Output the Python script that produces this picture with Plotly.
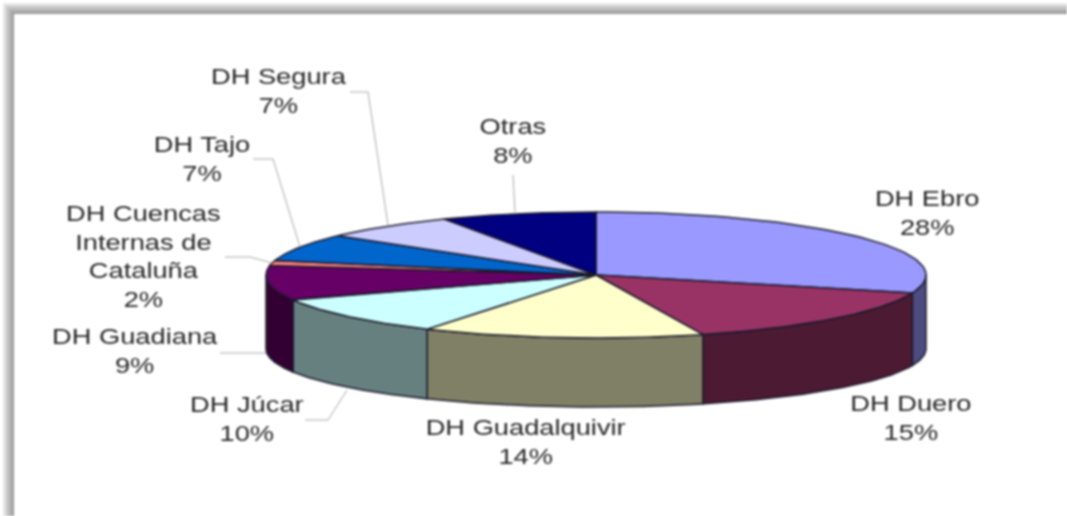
import math
import plotly.graph_objects as go

categories = ["DH Ebro", "DH Duero", "DH Guadalquivir", "DH Júcar", "DH Guadiana",
              "DH Cuencas<br>Internas de<br>Cataluña", "DH Tajo", "DH Segura", "Otras"]
# apparent share of the drawn ellipse, read from the slice boundaries
shares = [29.6, 15.15, 13.8, 9.95, 8.9, 1.3, 7.0, 6.7, 7.6]
percent_labels = ["28%", "15%", "14%", "10%", "9%", "2%", "7%", "7%", "8%"]
top_colors = ["#9999ff", "#993366", "#ffffcc", "#ccffff", "#660066", "#ff8080", "#0066cc", "#ccccff", "#000080"]
side_colors = ["#4c4c80", "#4c1a33", "#808066", "#668080", "#330033", "#804040", "#003366", "#666680", "#000040"]
label_centers = [(927, 213), (911, 418), (525, 442), (247, 419), (135, 351),
                 (143, 256), (202, 159), (279, 91), (513, 141)]
leaders = [None, None, None,
           [(305, 420), (328, 420), (347, 390)],
           [(220, 353), (266, 353)],
           [(225, 257), (250, 257), (272, 263)],
           [(253, 159), (273, 159), (300, 247)],
           [(350, 92), (368, 92), (388, 225)],
           [(513, 175), (515, 212)]]

CX, CY, RX, RY = 596, 275, 330, 63
BOTTOM_CY, BOTTOM_RY = 349, 58
OUTLINE = "#1a1a2a"


def rim(a0, a1, cy, ry, n=60):
    pts = [a0 + (a1 - a0) * i / n for i in range(n + 1)]
    return ([CX + RX * math.sin(math.radians(a)) for a in pts],
            [cy - ry * math.cos(math.radians(a)) for a in pts])


fig = go.Figure()
total = sum(shares)
edges = [0.0]
for s in shares:
    edges.append(edges[-1] + s / total * 360)

# side walls of the visible front half
for i, c in enumerate(side_colors):
    a0, a1 = max(edges[i], 90), min(edges[i + 1], 270)
    if a0 >= a1:
        continue
    x0, y0 = rim(a0, a1, CY, RY)
    x1, y1 = rim(a0, a1, BOTTOM_CY, BOTTOM_RY)
    fig.add_trace(go.Scatter(x=x0 + x1[::-1] + [x0[0]], y=y0 + y1[::-1] + [y0[0]], mode="lines",
                             fill="toself", fillcolor=c, line=dict(color=OUTLINE, width=1.5), hoverinfo="skip"))

# top faces
for i, c in enumerate(top_colors):
    x0, y0 = rim(edges[i], edges[i + 1], CY, RY)
    fig.add_trace(go.Scatter(x=[CX] + x0 + [CX], y=[CY] + y0 + [CY], mode="lines",
                             fill="toself", fillcolor=c, line=dict(color=OUTLINE, width=1.5), hoverinfo="skip"))

# leader lines
for leader in leaders:
    if leader:
        fig.add_trace(go.Scatter(x=[p[0] for p in leader], y=[p[1] for p in leader], mode="lines",
                                 line=dict(color="#a8a8a8", width=1), hoverinfo="skip"))

for cat, pct, (lx, ly) in zip(categories, percent_labels, label_centers):
    fig.add_annotation(x=lx, y=ly, text=f"{cat}<br>{pct}", showarrow=False, xref="x", yref="y",
                       font=dict(family="Liberation Sans", size=22, color="#262626"), align="center")

# soft grey frame along the top and left edges
shapes = []
steps = [(3, "#eeeeee"), (4, "#e4e4e4"), (5, "#dadada"), (6, "#d0d0d0"), (7, "#c8c8c8"),
         (8, "#c0c0c0"), (9, "#b9b9b9"), (10, "#b2b2b2"), (11, "#aaaaaa"), (12, "#a2a2a2"), (13, "#989898")]
for k, col in steps:
    shapes.append(dict(type="rect", xref="x", yref="y", x0=k, x1=k + 1, y0=k, y1=516, fillcolor=col, line_width=0, layer="below"))
    shapes.append(dict(type="rect", xref="x", yref="y", x0=k, x1=1067, y0=k, y1=k + 1, fillcolor=col, line_width=0, layer="below"))

fig.update_layout(width=1067, height=516, margin=dict(l=0, r=0, t=0, b=0), showlegend=False,
                  paper_bgcolor="white", plot_bgcolor="white", shapes=shapes,
                  xaxis=dict(range=[0, 1067], visible=False, fixedrange=True),
                  yaxis=dict(range=[516, 0], visible=False, fixedrange=True))
css = (".annotation-text{transform:scaleX(1.24);transform-box:fill-box;transform-origin:center;}"
       "body{margin:0;overflow:hidden;filter:blur(0.8px);}")
fig.write_html("out.html", config={"displayModeBar": False},
               post_script=("var s=document.createElement('style');s.textContent=%r;"
                            "document.head.appendChild(s);" % css))
